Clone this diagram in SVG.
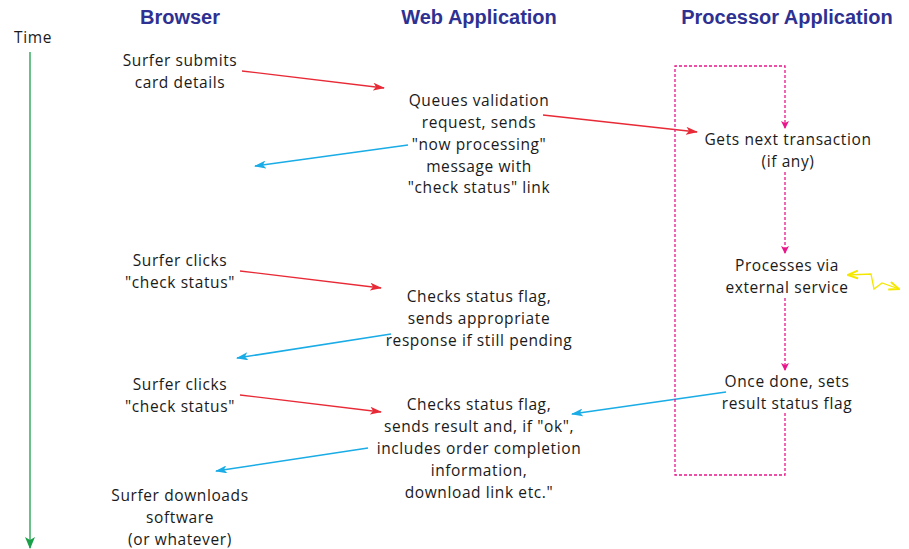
<svg xmlns="http://www.w3.org/2000/svg" width="909" height="549" viewBox="0 0 909 549">
<defs>
<style>
.h{font-family:"Liberation Sans",Arial,sans-serif;font-weight:bold;font-size:20px;fill:#2e3192;text-anchor:middle}
.t{font-family:"Open Sans","Noto Sans",sans-serif;font-size:15.5px;letter-spacing:0.6px;fill:#1a1a1a;text-anchor:middle}
.red{stroke:#e82a36;stroke-width:1.3;fill:none}
.blue{stroke:#19ace6;stroke-width:1.6;fill:none}
.pink{stroke:#e8168a;stroke-width:1.3;fill:none;stroke-dasharray:3 2}
</style>
<marker id="ar" viewBox="0 0 12 8" refX="11" refY="4" markerWidth="12" markerHeight="8" markerUnits="userSpaceOnUse" orient="auto"><path d="M0,0 L12,4 L0,8 L3,4 Z" fill="#e82a36"/></marker>
<marker id="ab" viewBox="0 0 12 8" refX="11" refY="4" markerWidth="12" markerHeight="8" markerUnits="userSpaceOnUse" orient="auto"><path d="M0,0 L12,4 L0,8 L3,4 Z" fill="#19ace6"/></marker>
<marker id="ap" viewBox="0 0 8 8" refX="7" refY="4" markerWidth="8" markerHeight="8" markerUnits="userSpaceOnUse" orient="auto"><path d="M0,0 L8,4 L0,8 L2,4 Z" fill="#e8168a"/></marker>
<marker id="ag" viewBox="0 0 12 10" refX="11" refY="5" markerWidth="12" markerHeight="10" markerUnits="userSpaceOnUse" orient="auto"><path d="M0,0 L12,5 L0,10 L3,5 Z" fill="#1aa048"/></marker>
<marker id="ay" viewBox="0 0 12 10" refX="11" refY="5" markerWidth="12" markerHeight="10" markerUnits="userSpaceOnUse" orient="auto-start-reverse"><path d="M1,1 L11,5 L1,9" fill="none" stroke="#f5e800" stroke-width="2"/></marker>
</defs>
<rect width="909" height="549" fill="#ffffff"/>
<g id="headers">
<text class="h" x="180" y="24">Browser</text>
<text class="h" x="479" y="24">Web Application</text>
<text class="h" x="787" y="24">Processor Application</text>
</g>
<g id="time">
<text class="t" x="33" y="43">Time</text>
<line x1="30" y1="52" x2="30" y2="548" stroke="#1aa048" stroke-width="1.3" marker-end="url(#ag)"/>
</g>
<g id="b1"><text class="t" x="180" y="66">Surfer submits</text><text class="t" x="180" y="88">card details</text></g>
<g id="w1"><text class="t" x="479" y="106">Queues validation</text><text class="t" x="479" y="128">request, sends</text><text class="t" x="479" y="150">"now processing"</text><text class="t" x="479" y="172">message with</text><text class="t" x="479" y="193">"check status"  link</text></g>
<g id="p1"><text class="t" x="788" y="145">Gets next transaction</text><text class="t" x="788" y="167">(if any)</text></g>
<g id="p2"><text class="t" x="787" y="271">Processes via</text><text class="t" x="787" y="293">external service</text></g>
<g id="p3"><text class="t" x="787" y="387">Once done, sets</text><text class="t" x="787" y="409">result status flag</text></g>
<g id="b2"><text class="t" x="180" y="266">Surfer clicks</text><text class="t" x="180" y="288">"check status"</text></g>
<g id="w2"><text class="t" x="479" y="302">Checks status flag,</text><text class="t" x="479" y="324">sends appropriate</text><text class="t" x="479" y="346">response if still pending</text></g>
<g id="b3"><text class="t" x="180" y="390">Surfer clicks</text><text class="t" x="180" y="412">"check status"</text></g>
<g id="w3"><text class="t" x="479" y="410">Checks status flag,</text><text class="t" x="479" y="432">sends result and, if "ok",</text><text class="t" x="479" y="454">includes order completion</text><text class="t" x="479" y="476">information,</text><text class="t" x="479" y="498">download link etc."</text></g>
<g id="b4"><text class="t" x="180" y="501">Surfer downloads</text><text class="t" x="180" y="523">software</text><text class="t" x="180" y="545">(or whatever)</text></g>
<g id="connectors">
<line class="red" x1="242" y1="71" x2="384" y2="88" marker-end="url(#ar)"/>
<line class="red" x1="543" y1="115" x2="697" y2="132" marker-end="url(#ar)"/>
<line class="blue" x1="408" y1="145" x2="255" y2="166" marker-end="url(#ab)"/>
<line class="red" x1="240" y1="271" x2="381" y2="288" marker-end="url(#ar)"/>
<line class="blue" x1="391" y1="334" x2="237" y2="358" marker-end="url(#ab)"/>
<line class="red" x1="240" y1="395" x2="381" y2="412" marker-end="url(#ar)"/>
<line class="blue" x1="726" y1="392" x2="572" y2="414" marker-end="url(#ab)"/>
<line class="blue" x1="368" y1="448" x2="216" y2="471" marker-end="url(#ab)"/>
<path class="pink" d="M785,172 L785,253" marker-end="url(#ap)"/>
<path class="pink" d="M785,298 L785,370" marker-end="url(#ap)"/>
<path class="pink" d="M785,413 L785,475 L675,475 L675,66 L785,66 L785,128" marker-end="url(#ap)"/>
<polyline points="848,275 871,274 874,289 882,283 899,289" fill="none" stroke="#f5e800" stroke-width="1.3" marker-start="url(#ay)" marker-end="url(#ay)"/>
</g>
</svg>
